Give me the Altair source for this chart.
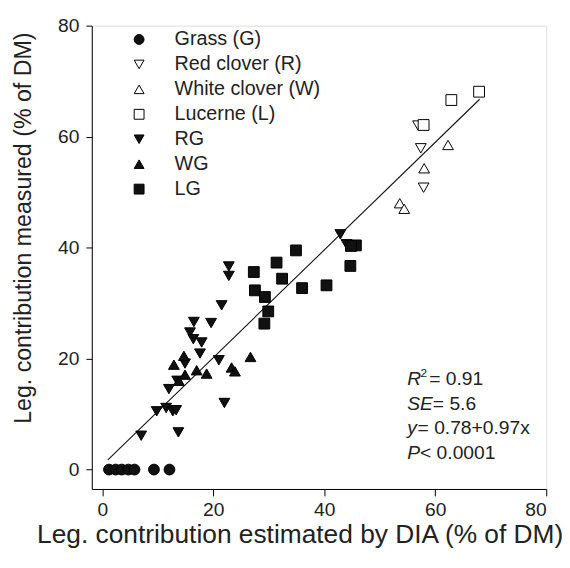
import altair as alt
import pandas as pd

# ---------------- data ----------------
grass_x = [1.2, 2.4, 3.5, 4.7, 5.8, 9.3, 12.1]
grass_y = [0, 0, 0, 0, 0, 0, 0]

red_x = [56.9, 57.4, 57.9]
red_y = [62.0, 57.9, 50.8]

white_x = [53.6, 54.4, 58.0, 62.3]
white_y = [48.0, 47.0, 54.3, 58.5]

luc_x = [57.9, 62.9, 67.9]
luc_y = [62.1, 66.6, 68.1]

rg_x = [22.8, 22.8, 21.5, 16.5, 19.6, 15.8, 16.4, 17.9, 17.6, 21.0, 14.9, 22.0,
        9.8, 11.5, 12.7, 13.3, 7.0, 13.7, 42.9, 44.0, 12.0, 13.5]
rg_y = [36.6, 34.9, 29.6, 26.6, 26.4, 24.7, 23.5, 22.9, 20.9, 19.7, 19.1, 12.0,
        10.5, 11.1, 10.5, 10.7, 6.1, 6.7, 42.4, 40.6, 14.5, 16.0]

wg_x = [14.7, 12.9, 26.7, 23.3, 23.9, 18.8, 17.0, 14.9, 13.8]
wg_y = [20.5, 18.9, 20.3, 18.4, 17.7, 17.3, 17.9, 17.1, 16.0]

lg_x = [31.4, 27.3, 32.4, 27.5, 29.3, 29.9, 29.2, 34.9, 36.0, 40.4, 44.7, 45.7, 44.8]
lg_y = [37.3, 35.6, 34.4, 32.3, 31.1, 28.5, 26.3, 39.5, 32.7, 33.2, 36.7, 40.4, 40.3]

groups = ["Grass (G)", "Red clover (R)", "White clover (W)", "Lucerne (L)", "RG", "WG", "LG"]
shapes = ["circle", "triangle-down", "triangle-up", "square", "triangle-down", "triangle-up", "square"]
fills = ["#111111", "white", "white", "white", "#111111", "#111111", "#111111"]

# regression line y = a + b x
reg_a = 0.78
reg_b = 0.97
reg_xrange = [1.0, 68.0]

# ---------------- tables ----------------
series = [(groups[0], grass_x, grass_y), (groups[1], red_x, red_y),
          (groups[2], white_x, white_y), (groups[3], luc_x, luc_y),
          (groups[4], rg_x, rg_y), (groups[5], wg_x, wg_y), (groups[6], lg_x, lg_y)]
rows = []
for g, xs, ys in series:
    for xv, yv in zip(xs, ys):
        rows.append({"group": g, "x": xv, "y": yv})
df = pd.DataFrame(rows)

reg_df = pd.DataFrame({"x": reg_xrange, "y": [reg_a + reg_b * v for v in reg_xrange]})

FONT = "Liberation Sans"
W, H = 461, 470

xscale = alt.Scale(domain=[-1.9, 80], nice=False, zero=False)
yscale = alt.Scale(domain=[-3.5, 80], nice=False, zero=False)

xaxis = alt.Axis(values=[0, 20, 40, 60, 80], grid=False, domainColor="black", tickColor="black",
                 tickSize=7, labelFontSize=19.5, labelFont=FONT, labelColor="#222", labelPadding=5,
                 title="Leg. contribution estimated by DIA (% of DM)", titleFont=FONT,
                 titleFontSize=26.7, titleFontWeight="normal", titleColor="#222",
                 titleAnchor="start", titleAlign="left", titleX=-56, titleY=54,
                 titleBaseline="alphabetic")
yaxis = alt.Axis(values=[0, 20, 40, 60, 80], grid=False, domainColor="black", tickColor="black",
                 tickSize=6, labelFontSize=19.5, labelFont=FONT, labelColor="#222", labelPadding=7,
                 title="Leg. contribution measured (% of DM)", titleFont=FONT,
                 titleFontSize=23.5, titleFontWeight="normal", titleColor="#222",
                 titleAngle=-90, titleAlign="center", titleX=-62, titleY=205,
                 titleBaseline="alphabetic")

legend = alt.Legend(title=None, orient="none", legendX=38, legendY=4,
                    labelFont=FONT, labelFontSize=20, labelColor="#222",
                    symbolSize=100, symbolStrokeWidth=1, labelOffset=26, rowPadding=5.3,
                    padding=0)

points = alt.Chart(df).mark_point(strokeWidth=1, opacity=1, size=120).encode(
    x=alt.X("x:Q", scale=xscale, axis=xaxis),
    y=alt.Y("y:Q", scale=yscale, axis=yaxis),
    shape=alt.Shape("group:N", scale=alt.Scale(domain=groups, range=shapes), legend=legend),
    fill=alt.Fill("group:N", scale=alt.Scale(domain=groups, range=fills), legend=legend),
    stroke=alt.Stroke("group:N", scale=alt.Scale(domain=groups, range=["black"] * 7), legend=legend),
)

line = alt.Chart(reg_df).mark_line(color="#111", strokeWidth=1.1).encode(
    x=alt.X("x:Q", scale=xscale), y=alt.Y("y:Q", scale=yscale))

# ---------------- statistics annotation ----------------
stat_italic = ["R", "SE", "y", "P"]
stat_rest = ["= 0.91", "= 5.6", "= 0.78+0.97x", "< 0.0001"]
stat_rest_dx = [22.3, 26, 10.5, 13]
stat_base = [364.7, 389.7, 414.5, 439.5]  # baselines relative to plot top
TX = 320  # left of text relative to plot left
SFONT = 19.5

ann = []
for it, rest, dx, by in zip(stat_italic, stat_rest, stat_rest_dx, stat_base):
    ann.append(alt.Chart(pd.DataFrame({"t": [it]})).mark_text(
        font=FONT, fontSize=SFONT, fontStyle="italic", align="left", baseline="alphabetic",
        color="#222").encode(text="t:N", x=alt.value(TX), y=alt.value(by)))
    ann.append(alt.Chart(pd.DataFrame({"t": [rest]})).mark_text(
        font=FONT, fontSize=SFONT, align="left", baseline="alphabetic",
        color="#222").encode(text="t:N", x=alt.value(TX + dx), y=alt.value(by)))
ann.append(alt.Chart(pd.DataFrame({"t": ["2"]})).mark_text(
    font=FONT, fontSize=12, align="left", baseline="alphabetic",
    color="#222").encode(text="t:N", x=alt.value(TX + 13.5), y=alt.value(stat_base[0] - 8)))

chart = alt.layer(line, points, *ann).properties(
    width=W, height=H,
    autosize=alt.AutoSizeParams(type="none"),
    padding={"left": 85, "top": 14, "right": 16, "bottom": 60},
).configure_view(stroke=None).configure(background="white")

chart.save("out.html", embed_options={"renderer": "svg", "actions": False})
